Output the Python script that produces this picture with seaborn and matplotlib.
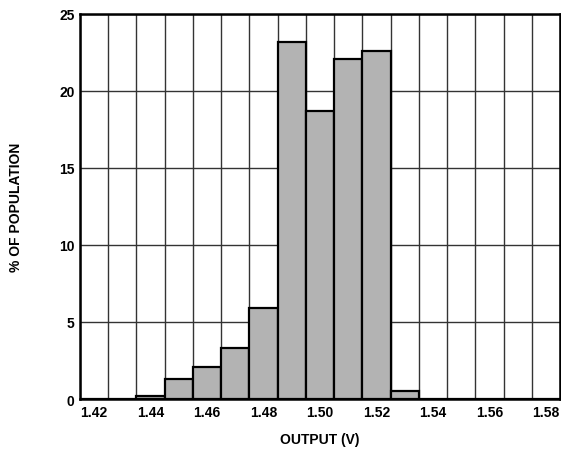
import numpy as np
import pandas as pd
import matplotlib
matplotlib.use("Agg")
import matplotlib.pyplot as plt
import seaborn as sns

# bin centres (V) and share of population (%)
output_v = [1.44, 1.45, 1.46, 1.47, 1.48, 1.49, 1.50, 1.51, 1.52, 1.53]
population_pct = [0.2, 1.3, 2.1, 3.3, 5.9, 23.2, 18.7, 22.1, 22.6, 0.55]
x_ticks = [1.42, 1.44, 1.46, 1.48, 1.50, 1.52, 1.54, 1.56, 1.58]
y_ticks = [0, 5, 10, 15, 20, 25]

sns.set_style("white")
plt.rcParams["font.family"] = ["Liberation Sans", "DejaVu Sans"]
plt.rcParams["font.weight"] = "bold"
plt.rcParams["text.color"] = "black"
plt.rcParams["axes.labelcolor"] = "black"
plt.rcParams["xtick.color"] = "black"
plt.rcParams["ytick.color"] = "black"

df = pd.DataFrame({"output": output_v, "pct": population_pct})
edges = np.linspace(1.415, 1.585, 18)

fig = plt.figure(figsize=(5.61, 4.52), dpi=100)
ax = fig.add_axes([0.1426, 0.115, 0.8556, 0.852])

sns.histplot(data=df, x="output", weights="pct", bins=list(edges),
             color="#b3b3b3", alpha=1, edgecolor="black", linewidth=1.6,
             ax=ax, zorder=3)

ax.set_xlim(1.415, 1.585)
ax.set_ylim(0, 25)
ax.set_xticks(x_ticks)
ax.set_xticklabels([f"{t:.2f}" for t in x_ticks])
ax.set_xticks(edges, minor=True)
ax.set_yticks(y_ticks)
ax.tick_params(axis="both", which="both", length=0, labelsize=10, pad=4,
               colors="black")
for lab in ax.get_xticklabels() + ax.get_yticklabels():
    lab.set_fontweight("bold")

ax.grid(False)
ax.xaxis.grid(True, which="minor", color="#333333", linewidth=1.0, zorder=1)
ax.yaxis.grid(True, which="major", color="#333333", linewidth=1.0, zorder=1)
ax.set_axisbelow(True)

for s in ax.spines.values():
    s.set_visible(True)
    s.set_color("black")
    s.set_linewidth(1.8)

ax.set_xlabel("OUTPUT (V)", fontsize=10, fontweight="bold", labelpad=10,
              color="black")
ax.set_ylabel("% OF POPULATION", fontsize=10, fontweight="bold", labelpad=26,
              color="black")

fig.savefig("out.png", dpi=100)
